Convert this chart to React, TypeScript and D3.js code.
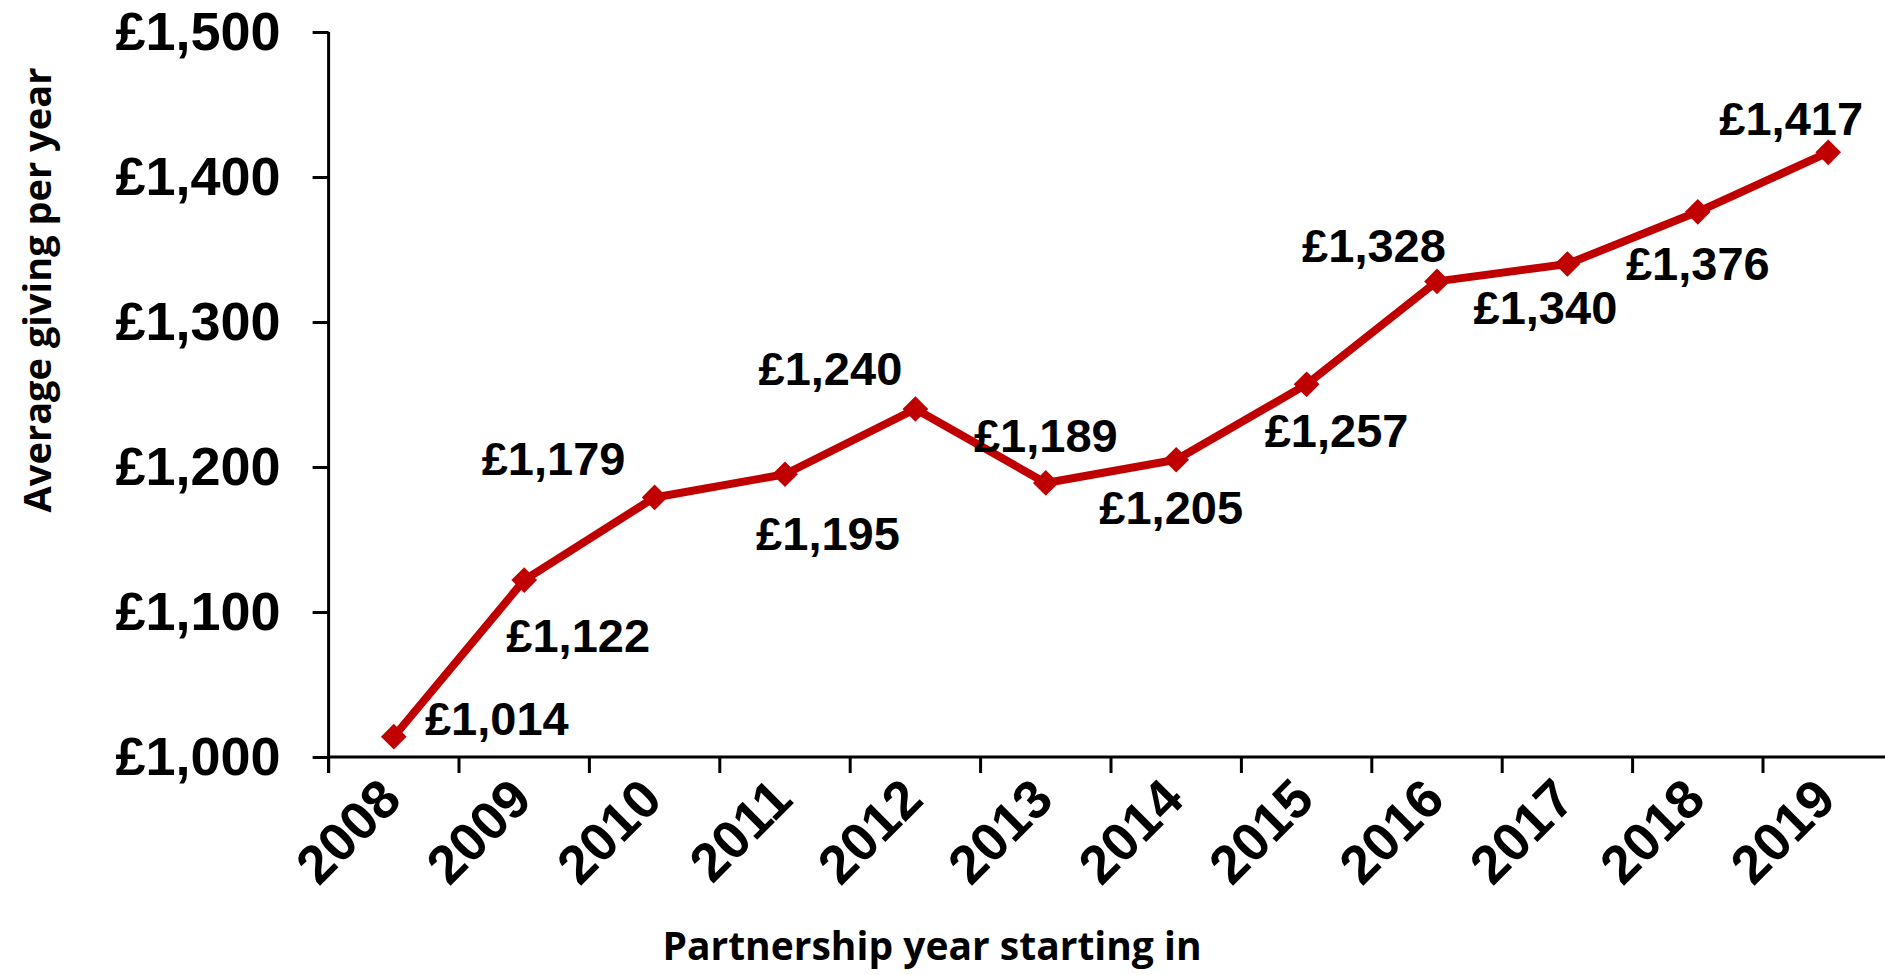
import React, { useRef, useEffect } from "react";
import * as d3 from "d3";

// chart values
const years = ["2008", "2009", "2010", "2011", "2012", "2013", "2014", "2015", "2016", "2017", "2018", "2019"];
const giving = [1014, 1122, 1179, 1195, 1240, 1189, 1205, 1257, 1328, 1340, 1376, 1417];
const yTicks = [1000, 1100, 1200, 1300, 1400, 1500];

// where each value label sits relative to its point (dx to text centre, dy to baseline)
const labelOffsets = [
  [103, -2], [54, 72], [-101, -22], [43, 76], [-85, -24], [0, -31],
  [-5, 64], [30, 63], [-63, -19], [-22, 60], [0, 68], [-37, -17],
];

const W = 1885;
const H = 975;
const RED = "#C00000";
const ARIAL = "'Liberation Sans', Arial, sans-serif";
const TITLE_FONT = "'Open Sans', 'Noto Sans', sans-serif";

const pound = (v: number) => "£" + d3.format(",")(v);

function LineChart() {
  const svgRef = useRef<SVGSVGElement>(null);

  useEffect(() => {
    const svg = d3.select(svgRef.current);
    svg.selectAll("*").remove();

    const x = d3.scaleBand().domain(years).range([328.6, 328.6 + 130.4 * 12]).padding(0);
    const y = d3.scaleLinear().domain([1000, 1500]).range([757, 32]);
    const cx = (d: string) => (x(d) as number) + x.bandwidth() / 2;

    // y axis
    const yAxis = svg
      .append("g")
      .attr("transform", `translate(${x.range()[0]},0)`)
      .call(d3.axisLeft(y).tickValues(yTicks).tickSize(16).tickPadding(32).tickFormat((d) => pound(d as number)));
    yAxis.select(".domain").attr("d", `M0,${y(1500)}V${y(1000) + 16}`).attr("stroke-width", 3);
    yAxis.selectAll(".tick line").attr("stroke-width", 3);
    yAxis
      .selectAll(".tick text")
      .attr("font-family", ARIAL)
      .attr("font-weight", "bold")
      .attr("font-size", 54)
      .attr("fill", "#000");

    // x axis: ticks on band boundaries
    const xg = svg.append("g").attr("transform", `translate(0,${y(1000)})`);
    xg.append("line")
      .attr("x1", x.range()[0])
      .attr("x2", x.range()[1])
      .attr("stroke", "#000")
      .attr("stroke-width", 3);
    xg.selectAll(".xtick")
      .data(years)
      .join("line")
      .attr("class", "xtick")
      .attr("x1", (d) => x(d) as number)
      .attr("x2", (d) => x(d) as number)
      .attr("y1", 0)
      .attr("y2", 16)
      .attr("stroke", "#000")
      .attr("stroke-width", 3);
    xg.selectAll(".xlabel")
      .data(years)
      .join("text")
      .attr("class", "xlabel")
      .attr("transform", (d) => `translate(${cx(d) + 10},${45}) rotate(-45)`)
      .attr("text-anchor", "end")
      .attr("font-family", ARIAL)
      .attr("font-weight", "bold")
      .attr("font-size", 54)
      .text((d) => d);

    // line
    const line = d3
      .line<number>()
      .x((_, i) => cx(years[i]))
      .y((d) => y(d));
    svg
      .append("path")
      .datum(giving)
      .attr("d", line)
      .attr("fill", "none")
      .attr("stroke", RED)
      .attr("stroke-width", 8)
      .attr("stroke-linejoin", "round");

    // markers
    svg
      .selectAll(".marker")
      .data(giving)
      .join("path")
      .attr("class", "marker")
      .attr("d", d3.symbol(d3.symbolSquare, 330)())
      .attr("transform", (d, i) => `translate(${cx(years[i])},${y(d)}) rotate(45)`)
      .attr("fill", RED);

    // value labels
    svg
      .selectAll(".vlabel")
      .data(giving)
      .join("text")
      .attr("class", "vlabel")
      .attr("x", (d, i) => cx(years[i]) + labelOffsets[i][0])
      .attr("y", (d, i) => y(d) + labelOffsets[i][1])
      .attr("text-anchor", "middle")
      .attr("font-family", ARIAL)
      .attr("font-weight", "bold")
      .attr("font-size", 47)
      .text((d) => pound(d));

    // axis titles
    svg
      .append("text")
      .attr("transform", `translate(51,290) rotate(-90)`)
      .attr("text-anchor", "middle")
      .attr("font-family", TITLE_FONT)
      .attr("font-weight", "bold")
      .attr("font-size", 38)
      .text("Average giving per year");
    svg
      .append("text")
      .attr("x", 932)
      .attr("y", 960)
      .attr("text-anchor", "middle")
      .attr("font-family", TITLE_FONT)
      .attr("font-weight", "bold")
      .attr("font-size", 39)
      .text("Partnership year starting in");
  }, []);

  return <svg ref={svgRef} width={W} height={H} style={{ display: "block", background: "#fff" }}></svg>;
}

export default function App() {
  return (
    <div style={{ position: "absolute", left: 0, top: 0, width: W, height: H, overflow: "hidden", background: "#fff" }}>
      <LineChart />
    </div>
  );
}
